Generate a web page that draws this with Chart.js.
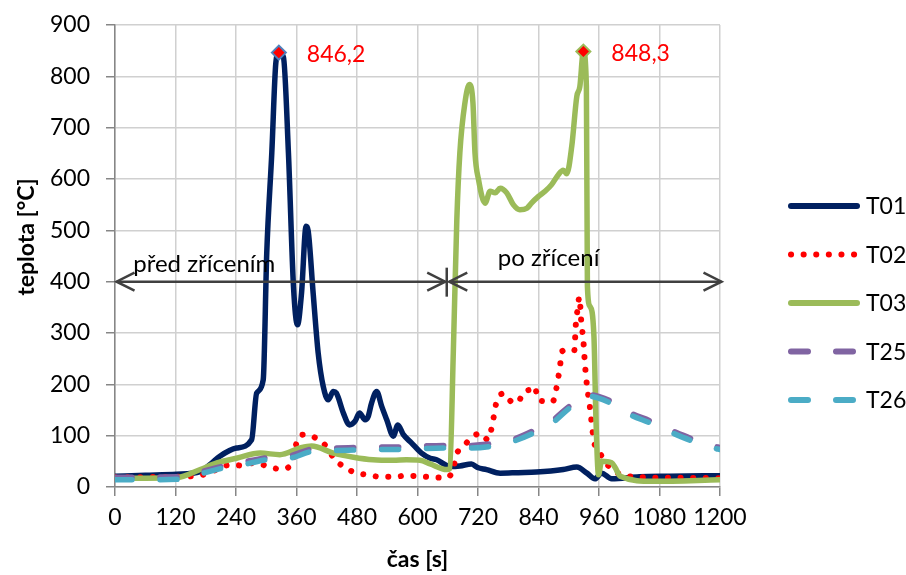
<!DOCTYPE html>
<html>
<head>
<meta charset="utf-8">
<script src="https://cdn.jsdelivr.net/npm/chart.js@4.4.1/dist/chart.umd.min.js"></script>
<style>
  html, body { margin: 0; padding: 0; background: #ffffff; }
  canvas { display: block; }
</style>
</head>
<body>
<canvas id="chart" width="906" height="575"></canvas>
<script>
// Axis ticks
const timeTicks = [0, 120, 240, 360, 480, 600, 720, 840, 960, 1080, 1200];
const tempTicks = [0, 100, 200, 300, 400, 500, 600, 700, 800, 900];

// Series names
const seriesNames = ['T01', 'T02', 'T03', 'T25', 'T26'];

// T01 – time [s] / temperature [°C]
const t01Time = [0, 60, 122, 169, 190, 208, 241, 271, 281, 294, 301, 311, 319, 325, 334, 344, 354, 362, 370, 379, 383, 393, 403, 413, 423, 433, 439, 453, 465, 476, 485, 496, 502, 509, 519, 529, 539, 552, 561, 572, 588, 608, 625, 638, 664, 684, 707, 719, 737, 764, 800, 836, 889, 916, 936, 952, 965, 985, 1040, 1100, 1200];
const t01Temp = [21, 23, 25, 30, 45, 60, 76, 92, 183, 209, 456, 651, 826, 846.2, 838, 651, 391, 316, 378, 508, 500, 378, 261, 196, 170, 186, 183, 144, 121, 128, 144, 131, 137, 164, 186, 157, 131, 99, 121, 102, 86, 66, 56, 53, 40, 41, 45, 38, 34, 27, 28, 29, 34, 39, 27, 16, 27, 16, 20, 21, 22];

// T02
const t02Time = [0, 120, 180, 228, 251, 277, 304, 327, 350, 362, 374, 388, 405, 420, 434, 453, 476, 499, 526, 552, 578, 603, 628, 654, 671, 676, 691, 707, 724, 740, 747, 752, 757, 772, 785, 798, 810, 826, 832, 840, 857, 868, 875, 879, 883, 886, 899, 911, 914, 918, 921, 925, 929, 932, 937, 941, 944, 950, 962, 975, 1015, 1100, 1200];
const t02Temp = [19, 20, 25, 43, 42, 47, 40, 35, 43, 93, 102, 100, 91, 78, 56, 40, 28, 24, 20, 20, 22, 21, 19, 18, 35, 60, 79, 95, 105, 92, 115, 141, 167, 182, 167, 164, 184, 191, 196, 169, 167, 166, 190, 212, 238, 264, 267, 266, 316, 350, 370, 320, 285, 241, 190, 164, 138, 89, 66, 45, 21, 18, 17];

// T03
const t03Time = [0, 122, 169, 202, 241, 288, 327, 367, 390, 433, 473, 512, 552, 578, 605, 625, 658, 664, 671, 678, 684, 694, 703, 710, 714, 721, 734, 744, 754, 764, 777, 790, 803, 817, 826, 840, 853, 866, 879, 889, 896, 906, 916, 922, 929, 935, 937, 942, 950, 954, 959, 965, 985, 992, 1002, 1068, 1200];
const t03Temp = [17, 18, 34, 47, 56, 66, 63, 76, 80, 66, 58, 53, 52, 53, 52, 45, 34, 36, 261, 521, 651, 748, 784, 748, 651, 599, 553, 576, 573, 582, 573, 550, 540, 543, 553, 566, 576, 589, 608, 617, 610, 664, 761, 780, 848.3, 780, 391, 352, 293, 131, 24, 50, 47, 38, 21, 11, 14];

// T25
const t25Time = [0, 129, 172, 215, 261, 301, 347, 390, 433, 480, 526, 569, 612, 658, 701, 744, 790, 830, 869, 902, 939, 982, 1021, 1061, 1104, 1144, 1187, 1200];
const t25Temp = [19, 20, 30, 41, 50, 57, 61, 74, 76, 77, 78, 78, 80, 81, 81, 84, 93, 110, 131, 158, 180, 168, 145, 129, 110, 94, 80, 77];

// T26
const t26Time = [0, 129, 172, 215, 261, 301, 347, 390, 433, 480, 526, 569, 612, 658, 701, 744, 790, 830, 869, 902, 939, 982, 1021, 1061, 1104, 1144, 1187, 1200];
const t26Temp = [14, 15, 26, 37, 45, 53, 56, 69, 71, 72, 73, 73, 75, 76, 76, 79, 89, 105, 126, 154, 177, 164, 141, 125, 106, 90, 76, 73];

// Labelled maxima
const peakValues = [846.2, 848.3];

// Fire phases (before / after the collapse)
const collapseTime = 658;
const phaseLevel = 400;
const phases = [
  { label: 'před zřícením', from: 3, to: 655, textAt: 177, lift: 10 },
  { label: 'po zřícení', from: 663, to: 1203, textAt: 860, lift: 16 }
];

const FONT = 'Lato, "Open Sans", sans-serif';

// Plot area edges on the canvas
const AREA = { left: 115, right: 720, top: 25, bottom: 487 };

const pts = (t, v) => t.map((x, i) => ({ x, y: v[i] }));

const peakRadius = ctx => (ctx.raw && peakValues.includes(ctx.raw.y)) ? 7 : 0;

const datasets = [
  {
    label: seriesNames[0], data: pts(t01Time, t01Temp),
    borderColor: '#002060', borderWidth: 5.5, order: 5,
    pointRadius: peakRadius, pointStyle: 'rectRot',
    pointBackgroundColor: '#FF0000', pointBorderColor: '#4F81BD', pointBorderWidth: 2
  },
  {
    label: seriesNames[1], data: pts(t02Time, t02Temp),
    borderColor: '#FF0000', borderWidth: 6, borderDash: [0.1, 12.5], borderCapStyle: 'round',
    order: 4, pointRadius: 0
  },
  {
    label: seriesNames[2], data: pts(t03Time, t03Temp),
    borderColor: '#9BBB59', borderWidth: 5.5, order: 3,
    pointRadius: peakRadius, pointStyle: 'rectRot',
    pointBackgroundColor: '#FF0000', pointBorderColor: '#9BBB59', pointBorderWidth: 2
  },
  {
    label: seriesNames[3], data: pts(t25Time, t25Temp),
    borderColor: '#8064A2', borderWidth: 5.5, borderDash: [17, 28], borderCapStyle: 'round',
    order: 2, pointRadius: 0
  },
  {
    label: seriesNames[4], data: pts(t26Time, t26Temp),
    borderColor: '#4BACC6', borderWidth: 5.5, borderDash: [17, 28], borderCapStyle: 'round',
    order: 1, pointRadius: 0
  }
];

// Peak value labels, phase arrows, axis titles and legend
const decorPlugin = {
  id: 'decor',
  afterDatasetsDraw(chart) {
    const { ctx, scales: { x, y } } = chart;
    ctx.save();

    // phase arrows
    const yy = y.getPixelForValue(phaseLevel);
    ctx.strokeStyle = '#404040';
    ctx.lineWidth = 2.5;
    ctx.lineJoin = 'miter';
    const head = (px, dir) => {
      ctx.beginPath();
      ctx.moveTo(px - dir * 18, yy - 9);
      ctx.lineTo(px, yy);
      ctx.lineTo(px - dir * 18, yy + 9);
      ctx.stroke();
    };
    ctx.font = '24px ' + FONT;
    ctx.fillStyle = '#000000';
    ctx.textAlign = 'center';
    ctx.textBaseline = 'alphabetic';
    phases.forEach(p => {
      const a = x.getPixelForValue(p.from), b = x.getPixelForValue(p.to);
      ctx.beginPath();
      ctx.moveTo(a, yy);
      ctx.lineTo(b, yy);
      ctx.stroke();
      head(a, -1);
      head(b, 1);
      ctx.fillText(p.label, x.getPixelForValue(p.textAt), yy - p.lift);
    });
    const cx = x.getPixelForValue(collapseTime);
    ctx.beginPath();
    ctx.moveTo(cx, yy - 14);
    ctx.lineTo(cx, yy + 15);
    ctx.stroke();

    // maximum labels
    ctx.font = '23px ' + FONT;
    ctx.fillStyle = '#FF0000';
    ctx.textAlign = 'left';
    chart.data.datasets.forEach((ds, i) => {
      const meta = chart.getDatasetMeta(i);
      ds.data.forEach((d, j) => {
        if (peakValues.includes(d.y)) {
          const el = meta.data[j];
          ctx.fillText(String(d.y).replace('.', ','), el.x + 28, el.y + 9);
        }
      });
    });

    // axis titles
    ctx.fillStyle = '#000000';
    ctx.font = 'bold 23px ' + FONT;
    ctx.textAlign = 'center';
    ctx.textBaseline = 'middle';
    ctx.fillText('čas [s]', (x.left + x.right) / 2, 560);
    ctx.save();
    ctx.translate(27, 237);
    ctx.rotate(-Math.PI / 2);
    ctx.fillText('teplota [°C]', 0, 0);
    ctx.restore();

    // legend
    ctx.font = '23px ' + FONT;
    ctx.textAlign = 'left';
    ctx.textBaseline = 'middle';
    chart.data.datasets.forEach((ds, i) => {
      const ly = 206 + i * 48.5;
      ctx.strokeStyle = ds.borderColor;
      ctx.lineWidth = 6;
      ctx.lineCap = 'round';
      ctx.setLineDash(ds.borderDash || []);
      ctx.beginPath();
      ctx.moveTo(791, ly);
      ctx.lineTo(857, ly);
      ctx.stroke();
      ctx.setLineDash([]);
      ctx.fillStyle = '#000000';
      ctx.fillText(ds.label, 866, ly + 1);
    });

    ctx.restore();
  }
};

new Chart(document.getElementById('chart'), {
  type: 'line',
  data: { datasets },
  options: {
    responsive: false,
    devicePixelRatio: 1,
    animation: false,
    layout: {
      autoPadding: false,
      padding: { top: AREA.top, right: 906 - AREA.right, left: 0, bottom: 0 }
    },
    elements: { line: { tension: 0.4, cubicInterpolationMode: 'monotone', fill: false, borderJoinStyle: 'round' } },
    plugins: { legend: { display: false }, tooltip: { enabled: false } },
    scales: {
      x: {
        type: 'linear', min: 0, max: 1200,
        afterBuildTicks: s => { s.ticks = timeTicks.map(v => ({ value: v })); },
        afterFit: s => { s.height = 575 - AREA.bottom; s.paddingLeft = 0; s.paddingRight = 0; },
        ticks: { callback: v => String(v), color: '#000000', font: { family: FONT, size: 23 }, padding: 8, maxRotation: 0, autoSkip: false },
        grid: { color: '#D0D0D0', lineWidth: 1.5, tickColor: '#868686', tickLength: 9 },
        border: { color: '#868686', width: 1.5 }
      },
      y: {
        type: 'linear', min: 0, max: 900,
        afterBuildTicks: s => { s.ticks = tempTicks.map(v => ({ value: v })); },
        afterFit: s => { s.width = AREA.left; s.paddingTop = 0; s.paddingBottom = 0; },
        ticks: { callback: v => String(v), color: '#000000', font: { family: FONT, size: 23 }, padding: 16 },
        grid: { color: '#D0D0D0', lineWidth: 1.5, tickColor: '#868686', tickLength: 9 },
        border: { color: '#868686', width: 1.5 }
      }
    }
  },
  plugins: [decorPlugin]
});
</script>
</body>
</html>
